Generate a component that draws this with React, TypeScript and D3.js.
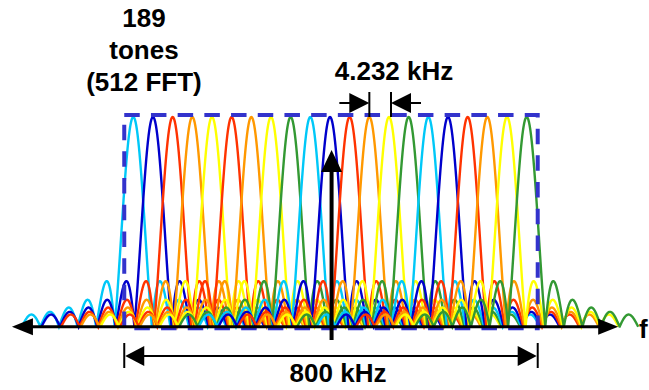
import * as d3 from "d3";

// one colour per tone, left to right
const toneColors = [
  "#00c8f8", "#0000cc", "#ff3300", "#ff9900", "#ffff00",
  "#ff3300", "#ff9900", "#ffff00", "#339933", "#00c8f8",
  "#0000cc", "#ff3300", "#ff9900", "#ffff00", "#339933",
  "#00c8f8", "#0000cc", "#ff3300", "#ff9900", "#ffff00", "#339933",
];
const toneIndex = toneColors.map((_, i) => i);
const toneAmplitude = [1, 1, 1, 1, 1, 1, 1, 1, 1, 1, 1, 1, 1, 1, 1, 1, 1, 1, 1, 1, 1];
const lobeWidth = 0.945; // sinc zero spacing, in tone units
const sideLobes = 6;
const bandEdges = [-0.46, 20.56];
const axisExtent = [-6.17, 24.65];
const centerTone = 10.08;
const spacingTones = [12, 13];
const titleLines = ["189", "tones", "(512 FFT)"];
const spacingLabel = "4.232 kHz";
const bandLabel = "800 kHz";
const axisLabel = "f";

const W = 649;
const H = 390;
const FONT = "'Liberation Sans', Arial, sans-serif";
const FS = 26;

const sinc = (u: number) => (u === 0 ? 1 : Math.sin(Math.PI * u) / (Math.PI * u));

export default function App() {
  const x = d3.scaleLinear().domain([0, 20]).range([133.3, 526.7]);
  const y = d3.scaleLinear().domain([0, 1]).range([326.7, 117]);

  const line = d3
    .line<[number, number]>()
    .x((d) => x(d[0]))
    .y((d) => y(d[1]));

  const curves = toneIndex.map((k) => {
    const span = sideLobes * lobeWidth;
    const pts = d3.range(k - span, k + span + 0.001, 0.01).map(
      (f) => [f, toneAmplitude[k] * Math.abs(sinc((f - k) / lobeWidth))] as [number, number]
    );
    return { k, d: line(pts)! };
  });

  const axisY = y(0);
  const ax0 = x(axisExtent[0]);
  const ax1 = x(axisExtent[1]);
  const bx0 = x(bandEdges[0]);
  const bx1 = x(bandEdges[1]);
  const cx = x(centerTone);
  const s0 = x(spacingTones[0]);
  const s1 = x(spacingTones[1]);
  const sy = 103;
  const by = 356;

  return (
    <svg
      width={W}
      height={H}
      style={{ position: "absolute", left: 0, top: 0, background: "#fff" }}
      fontFamily={FONT}
      fontWeight="bold"
    >
      {curves.map((c) => (
        <path key={c.k} d={c.d} fill="none" stroke={toneColors[c.k]} strokeWidth={2.4} />
      ))}

      {/* occupied band */}
      <rect
        x={bx0}
        y={y(1.01)}
        width={bx1 - bx0}
        height={y(-0.007) - y(1.01)}
        fill="none"
        stroke="#3333cc"
        strokeWidth={4}
        strokeDasharray="15.5 11.2"
      />

      {/* frequency axis */}
      <line x1={ax0 + 15} x2={ax1 - 15} y1={axisY} y2={axisY} stroke="#000" strokeWidth={3} />
      <path d={`M${ax0},${axisY}L${ax0 + 21},${axisY - 8.5}L${ax0 + 21},${axisY + 8.5}Z`} fill="#000" />
      <path d={`M${ax1},${axisY}L${ax1 - 20},${axisY - 8}L${ax1 - 20},${axisY + 8}Z`} fill="#000" />
      <text x={639} y={338} fontSize={FS}>{axisLabel}</text>

      {/* centre arrow */}
      <rect x={cx - 2} y={170} width={4} height={340 - 170} fill="#000" />
      <path d={`M${cx},150L${cx + 10.5},172L${cx - 10.5},172Z`} fill="#000" />

      {/* tone spacing */}
      <line x1={s0} x2={s0} y1={92} y2={117} stroke="#000" strokeWidth={2} />
      <line x1={s1 + 2} x2={s1 + 2} y1={92} y2={117} stroke="#000" strokeWidth={2} />
      <line x1={s0 - 30} x2={s0 - 18} y1={sy} y2={sy} stroke="#000" strokeWidth={2} />
      <path d={`M${s0},${sy}L${s0 - 20},${sy - 10}L${s0 - 20},${sy + 10}Z`} fill="#000" />
      <line x1={s1 + 20} x2={s1 + 32} y1={sy} y2={sy} stroke="#000" strokeWidth={2} />
      <path d={`M${s1 + 2},${sy}L${s1 + 22},${sy - 10}L${s1 + 22},${sy + 10}Z`} fill="#000" />
      <text x={394} y={80} fontSize={FS} textAnchor="middle">{spacingLabel}</text>

      {/* band width */}
      <line x1={bx0} x2={bx0} y1={343} y2={368} stroke="#000" strokeWidth={2} />
      <line x1={bx1} x2={bx1} y1={343} y2={368} stroke="#000" strokeWidth={2} />
      <line x1={bx0 + 18} x2={bx1 - 18} y1={by} y2={by} stroke="#000" strokeWidth={2} />
      <path d={`M${bx0 + 1},${by}L${bx0 + 20},${by - 10}L${bx0 + 20},${by + 10}Z`} fill="#000" />
      <path d={`M${bx1 - 1},${by}L${bx1 - 20},${by - 10}L${bx1 - 20},${by + 10}Z`} fill="#000" />
      <text x={338} y={382} fontSize={FS} textAnchor="middle">{bandLabel}</text>

      {/* title */}
      {titleLines.map((t, i) => (
        <text key={t} x={144} y={27 + i * 32} fontSize={FS} textAnchor="middle">{t}</text>
      ))}
    </svg>
  );
}
